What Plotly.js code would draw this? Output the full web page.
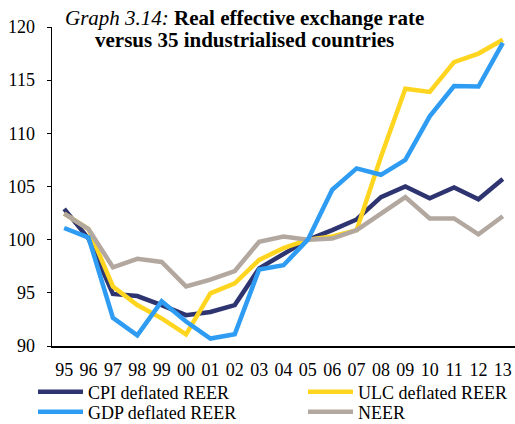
<!DOCTYPE html>
<html><head><meta charset="utf-8">
<script src="https://cdn.plot.ly/plotly-3.0.1.min.js"></script>
<style>html,body{margin:0;padding:0;background:#fff}#chart{width:515px;height:424px}</style>
</head><body><div id="chart"></div>
<script>
const years = ["95","96","97","98","99","00","01","02","03","04","05","06","07","08","09","10","11","12","13"];
const cpiREER = [102.9,100.1,94.9,94.7,93.85,92.9,93.2,93.85,97.3,98.7,100.0,100.9,101.9,104.0,105.0,103.9,104.9,103.8,105.7];
const ulcREER = [102.45,101.0,95.6,93.85,92.6,91.1,94.95,95.9,98.1,99.2,100.0,100.3,100.9,107.8,114.2,113.9,116.7,117.5,118.8];
const gdpREER = [101.1,100.2,92.65,91.0,94.2,92.3,90.7,91.1,97.2,97.6,100.0,104.7,106.7,106.1,107.5,111.6,114.45,114.4,118.5];
const neer    = [102.45,101.0,97.4,98.2,97.9,95.6,96.25,97.05,99.8,100.3,100.0,100.1,100.9,102.5,104.0,102.0,102.0,100.5,102.2];
const names = ["CPI deflated REER","ULC deflated REER","GDP deflated REER","NEER"];
const colors = ["#2E3470","#FFD520","#2F9CF3","#B3A8A0"];
const series = [cpiREER, ulcREER, gdpREER, neer];
const legendIds = ["legend","legend2","legend3","legend4"];
const traces = series.map((s,i)=>({x:years,y:s,name:names[i],type:"scatter",mode:"lines",
  line:{color:colors[i],width:4.5},legend:legendIds[i]}));
const drawOrder = [0,1,3,2];
const data = drawOrder.map(i=>traces[i]);
const font = "Liberation Serif";
function leg(px, py){
  return {xref:"container",yref:"container",x:px/515,y:1-py/424,xanchor:"left",yanchor:"middle",
    font:{family:font,size:18,color:"#000"},bgcolor:"rgba(0,0,0,0)",itemwidth:45};
}
Plotly.newPlot("chart", data, {
  width:515,height:424,
  margin:{l:52,r:0,t:27,b:78,autoexpand:false},
  paper_bgcolor:"#fff",plot_bgcolor:"#fff",
  font:{family:font,size:17,color:"#000"},
  annotations:[
    {xref:"paper",yref:"paper",x:(244.5-52)/463,y:1+(27-32)/319,xanchor:"center",yanchor:"bottom",showarrow:false,
     text:"<i>Graph 3.14:</i> <b>Real effective exchange rate</b>",font:{family:font,size:21,color:"#000"}},
    {xref:"paper",yref:"paper",x:(244.5-52)/463,y:1+(27-54)/319,xanchor:"center",yanchor:"bottom",showarrow:false,
     text:"<b>versus 35 industrialised countries</b>",font:{family:font,size:21,color:"#000"}}
  ],
  xaxis:{type:"category",range:[-0.5,18.5],showline:true,linecolor:"#000",linewidth:1.5,ticks:"",showgrid:false,zeroline:false,
    tickfont:{family:font,size:18,color:"#000"},ticklabelstandoff:7},
  yaxis:{range:[90,120],dtick:5,showline:true,linecolor:"#000",linewidth:1.5,ticks:"outside",ticklen:4,tickcolor:"#000",
    showgrid:false,zeroline:false,tickfont:{family:font,size:18,color:"#000"},ticklabelstandoff:8},
  showlegend:true,
  legend:leg(33,392), legend2:leg(303,392), legend3:leg(33,412), legend4:leg(303,412)
}, {displayModeBar:false,staticPlot:true});
</script></body></html>
